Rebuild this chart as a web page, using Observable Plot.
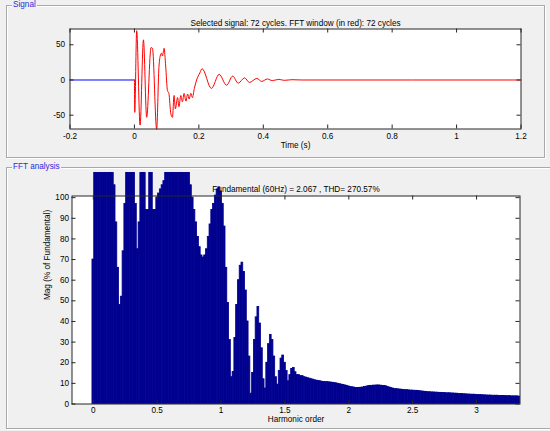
<!DOCTYPE html>
<html><head><meta charset="utf-8">
<script src="https://cdn.jsdelivr.net/npm/d3@7"></script>
<script src="https://cdn.jsdelivr.net/npm/@observablehq/plot@0.6"></script>
<style>
html,body{margin:0;padding:0;background:#f0f0f0;}
#root{position:relative;width:550px;height:431px;overflow:hidden;background:#f0f0f0;font-family:"Liberation Sans",Arial,sans-serif;}
.panel{position:absolute;border:1px solid #a9a9a9;box-shadow:1px 1px 0 #ffffff, inset 1px 1px 0 #ffffff;}
.ptitle{position:absolute;font-size:8.2px;color:#2a2ad8;background:#f0f0f0;padding:0 1px;line-height:10px;}
#sig,#fft{position:absolute;left:0;}
</style></head><body><div id="root">
<div class="panel" style="left:6px;top:5px;width:537px;height:151px"></div>
<div class="panel" style="left:6px;top:167px;width:560px;height:260px"></div>
<div id="sig" style="top:0px"></div>
<div id="fft" style="top:160px"></div>
<div class="ptitle" style="left:12px;top:0px">Signal</div>
<div class="ptitle" style="left:12px;top:162px">FFT analysis</div>
</div>
<script>
// ---------- Signal data ----------
const preT = [-0.2, 0];
const preV = [0, 0];
const sigT = [0, 0.001, 0.007, 0.0175, 0.028, 0.038, 0.0515, 0.056, 0.069, 0.076, 0.08, 0.084, 0.087, 0.092, 0.097, 0.1025, 0.107, 0.113, 0.118, 0.123, 0.127, 0.134, 0.138, 0.144, 0.149, 0.154, 0.160, 0.165, 0.170, 0.175, 0.180, 0.186, 0.193, 0.203, 0.210, 0.239, 0.263, 0.286, 0.305, 0.322, 0.342, 0.357, 0.380, 0.395, 0.413, 0.428, 0.448, 0.465, 0.489, 0.52, 1.2];
const sigV = [0, -46, 70, -64, 57, -53, 46, 45, -70, 18, 34, 38, 34, 45, 20, -15, -19, -48, -53, -22, -41, -25, -38, -22, -31, -19, -30, -20, -27, -19, -25, -12, 0, 10, 16, -12, 8, -7.5, 5.5, -4.5, 3, -3.5, 2.2, -2, 1.4, -0.9, 0.9, -0.5, 0.4, 0, 0];
const sigXTicks = [-0.2, 0, 0.2, 0.4, 0.6, 0.8, 1, 1.2];
const sigYTicks = [-50, 0, 50];
const sigTitle = "Selected signal: 72 cycles. FFT window (in red): 72 cycles";
const sigXLabel = "Time (s)";

// ---------- FFT data (% of fundamental, one bar per 1/72 harmonic order; tall bars shown as clipped) ----------
const binWidth = 1 / 72;
const fftMag = [
  70,
  112, 112, 112, 112, 112, 112, 112, 112, 112, 112, 112,
  106, 88, 66, 48, 52, 74, 97,
  112, 112, 112, 112, 112,
  97, 75, 88,
  112, 112, 112,
  94, 94,
  112, 112,
  94, 94, 100, 102, 104, 106, 108,
  112, 112, 112, 112, 112, 112, 112, 112, 112, 112, 112, 112, 112, 112,
  106, 100, 94, 88, 81, 76, 72, 71, 72, 75, 81, 87, 94, 97, 101, 104, 105, 103, 97, 86, 66,
  49, 31, 13, 15.5, 32, 48, 60, 67, 68.5, 64, 55, 40, 23, 5, 15, 31, 42, 47, 39, 27, 12, 7.5, 20, 29, 33.5, 31, 23, 13, 9.4,
  16, 22, 23.5, 20, 16, 11, 14, 17, 17.5, 15.4, 14, 14, 13.5, 13.5, 13, 12.8, 12.5, 12.3, 12, 11.8, 11.5, 11.3, 11.2, 11,
  10.8, 10.7, 10.6, 10.6, 10.5, 10.4, 10.3, 10.2,
  10, 9.8, 9.6, 9.4, 9.2, 9, 8.8, 8.5,
  8.3, 8.1, 8, 7.8, 7.8, 7.8, 7.9, 8, 8.2,
  8.4, 8.6, 8.7, 8.8, 8.9, 8.9, 9, 9, 8.9, 8.8, 8.7, 8.6,
  8.3, 8.0, 7.7, 7.5, 7.3, 7.2, 7.1, 7.0, 6.9, 6.8,
  6.7, 6.7, 6.6, 6.5, 6.5, 6.4, 6.4, 6.3, 6.2, 6.1,
  6.0, 5.9, 5.8, 5.7, 5.7, 5.6, 5.6, 5.5, 5.5, 5.4,
  5.4, 5.3, 5.3, 5.2, 5.2, 5.2, 5.1, 5.1, 5.0, 5.0,
  4.9, 4.8, 4.8, 4.7, 4.7, 4.6, 4.6, 4.5, 4.5, 4.5,
  4.4, 4.4, 4.3, 4.3, 4.2, 4.2, 4.1, 4.1, 4.1, 4.0,
  4.0, 4.0, 4.0, 3.9, 3.9, 3.9, 3.9, 3.8, 3.8, 3.8,
  3.7, 3.7, 3.7, 3.7, 3.6
];
const fftXTicks = [0, 0.5, 1, 1.5, 2, 2.5, 3];
const fftYTicks = [0, 10, 20, 30, 40, 50, 60, 70, 80, 90, 100];
const fftTitle = "Fundamental (60Hz) = 2.067 , THD= 270.57%";
const fftXLabel = "Harmonic order";
const fftYLabel = "Mag (% of Fundamental)";

const FONT = "Liberation Sans, Arial, Helvetica, sans-serif";
const FS = "8.2px";
const AX = "#262626";
const TL = 4;

// ---------- Signal plot ----------
{
  const W = 550, H = 160, mL = 69.5, mR = 29.5, mT = 28.5, mB = 31.5;
  const pw = W - mL - mR, ph = H - mT - mB;
  const pre = preT.map((t, i) => ({t, v: preV[i]}));
  const sig = sigT.map((t, i) => ({t, v: sigV[i]}));
  const chart = Plot.plot({
    width: W, height: H, marginLeft: mL, marginRight: mR, marginTop: mT, marginBottom: mB,
    style: {fontFamily: FONT, fontSize: FS, background: "transparent", overflow: "visible", color: "#000"},
    x: {domain: [-0.2, 1.2], ticks: sigXTicks, tickSize: 0, tickPadding: 4.5, tickFormat: d => String(d), label: null},
    y: {domain: [-69.6, 72.4], ticks: sigYTicks, tickSize: 0, tickPadding: 5, tickFormat: d => String(d), label: null},
    marks: [
      Plot.frame({fill: "white"}),
      Plot.line(pre, {x: "t", y: "v", stroke: "#0000ff", strokeWidth: 1}),
      Plot.line(sig, {x: "t", y: "v", stroke: "#ff0000", strokeWidth: 1, curve: "monotone-x"}),
      Plot.tickX(sigXTicks, {x: d => d, insetTop: ph - TL, stroke: AX}),
      Plot.tickX(sigXTicks, {x: d => d, insetBottom: ph - TL, stroke: AX}),
      Plot.tickY(sigYTicks, {y: d => d, insetRight: pw - TL, stroke: AX}),
      Plot.tickY(sigYTicks, {y: d => d, insetLeft: pw - TL, stroke: AX}),
      Plot.frame({stroke: AX}),
      Plot.text([sigTitle], {frameAnchor: "top", dy: -8.5, text: d => d, fill: "#000"}),
      Plot.text([sigXLabel], {frameAnchor: "bottom", dy: 18.5, text: d => d, fill: "#000"})
    ]
  });
  document.getElementById("sig").appendChild(chart);
}

// ---------- FFT plot ----------
{
  const W = 550, H = 271, mL = 71.5, mR = 30.5, mT = 35.5, mB = 27.5;
  const pw = W - mL - mR, ph = H - mT - mB;
  const bars = fftMag.map((m, i) => ({h: i * binWidth, m}));
  const chart = Plot.plot({
    width: W, height: H, marginLeft: mL, marginRight: mR, marginTop: mT, marginBottom: mB,
    style: {fontFamily: FONT, fontSize: FS, background: "transparent", overflow: "visible", color: "#000"},
    x: {domain: [-0.167, 3.34], ticks: fftXTicks, tickSize: 0, tickPadding: 3.5, tickFormat: d => String(d), label: null},
    y: {domain: [0, 100.8], ticks: fftYTicks, tickSize: 0, tickPadding: 3, tickFormat: d => String(d), label: null},
    marks: [
      Plot.frame({fill: "white"}),
      Plot.rectY(bars, {x1: d => d.h - binWidth / 2, x2: d => d.h + binWidth / 2, y1: 0, y2: "m", fill: "#00008f", stroke: "#00008f", strokeWidth: 0.8}),
      Plot.tickX(fftXTicks, {x: d => d, insetTop: ph - TL, stroke: AX}),
      Plot.tickX(fftXTicks, {x: d => d, insetBottom: ph - TL, stroke: AX}),
      Plot.tickY(fftYTicks, {y: d => d, insetRight: pw - TL, stroke: AX}),
      Plot.tickY(fftYTicks, {y: d => d, insetLeft: pw - TL, stroke: AX}),
      Plot.frame({stroke: AX}),
      Plot.text([fftTitle], {frameAnchor: "top", dy: -9.5, text: d => d, fill: "#000"}),
      Plot.text([fftXLabel], {frameAnchor: "bottom", dy: 18, text: d => d, fill: "#000"}),
      Plot.text([fftYLabel], {frameAnchor: "left", dx: -25, rotate: -90, text: d => d, fill: "#000"})
    ]
  });
  document.getElementById("fft").appendChild(chart);
}
</script>
</body></html>
